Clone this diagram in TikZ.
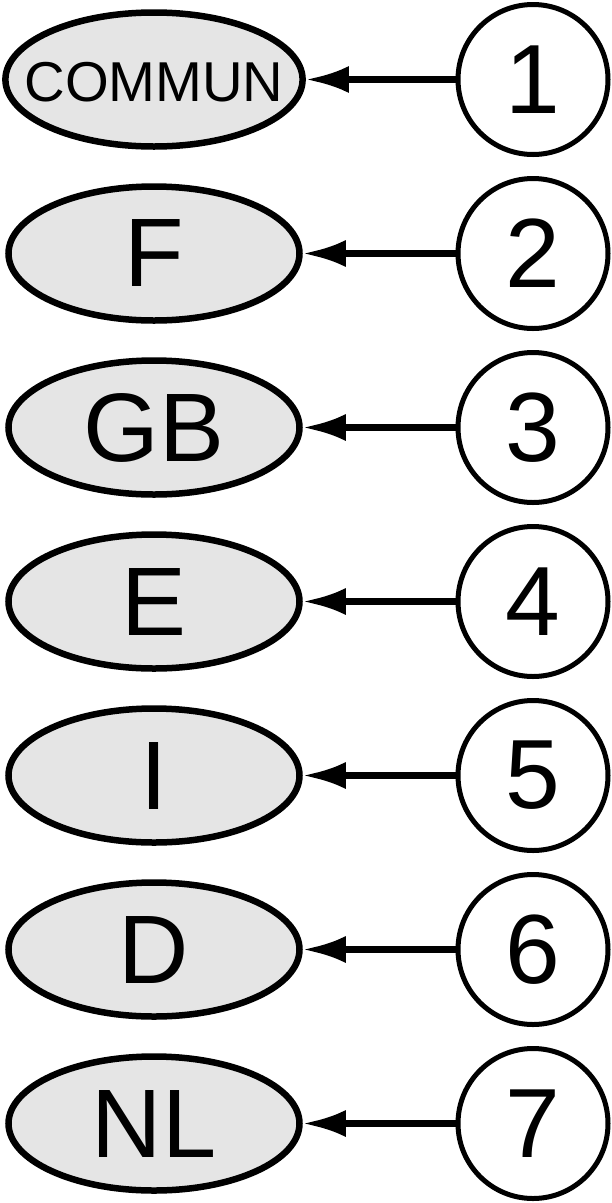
\documentclass[tikz,border=0pt]{standalone}
\usepackage{fontspec}
\setmainfont{Liberation Sans}
\usetikzlibrary{shapes.geometric,arrows.meta}
\tikzset{
  landbox/.style={draw,ellipse,line width=6.5pt,fill=gray!20,minimum width=291pt,minimum height=134pt,inner sep=0pt,font=\fontsize{97bp}{100bp}\selectfont},
  numbox/.style={draw,circle,line width=5pt,minimum size=150pt,inner sep=0pt,font=\fontsize{98bp}{100bp}\selectfont},
  linkarrow/.style={line width=6.5pt,-{Latex[length=43pt,width=27pt]}}
}
\begin{document}
\begin{tikzpicture}[x=1pt,y=-1pt]
\useasboundingbox (0,0) rectangle (612,1203);
\node[landbox,inner xsep=-24.5pt,text height=45bp,font=\fontsize{56bp}{60bp}\selectfont] (commun) at (154,79.5) {COMMUN};
\node[landbox] (f) at (154,253.5) {F};
\node[landbox] (gb) at (154,427.5) {GB};
\node[landbox] (e) at (154,601.5) {E};
\node[landbox] (i) at (154,775.5) {I};
\node[landbox] (d) at (154,949.5) {D};
\node[landbox] (nl) at (154,1123.5) {NL};
\node[numbox] (n1) at (533,79.5) {1};
\node[numbox] (n2) at (533,253.5) {2};
\node[numbox] (n3) at (533,427.5) {3};
\node[numbox] (n4) at (533,601.5) {4};
\node[numbox] (n5) at (533,775.5) {5};
\node[numbox] (n6) at (533,949.5) {6};
\node[numbox] (n7) at (533,1123.5) {7};
\draw[linkarrow] (n1) -- (commun);
\draw[linkarrow] (n2) -- (f);
\draw[linkarrow] (n3) -- (gb);
\draw[linkarrow] (n4) -- (e);
\draw[linkarrow] (n5) -- (i);
\draw[linkarrow] (n6) -- (d);
\draw[linkarrow] (n7) -- (nl);
\end{tikzpicture}
\end{document}
